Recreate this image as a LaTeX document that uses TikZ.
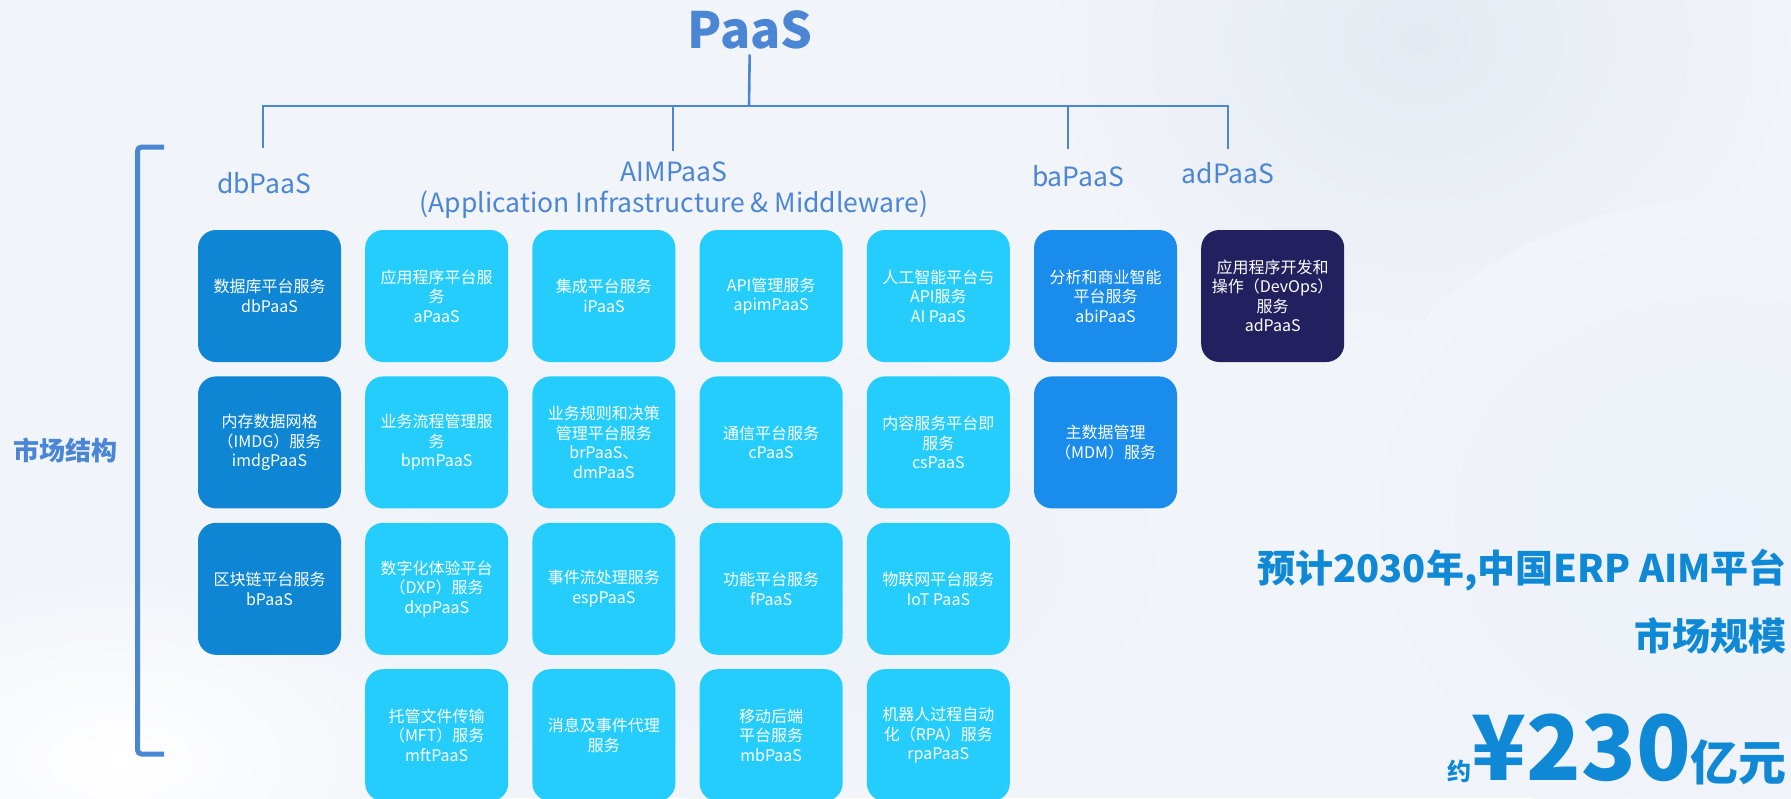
\documentclass[tikz,border=0pt]{standalone}
\usepackage{fontspec}
\setmainfont{Noto Sans CJK SC}
\usetikzlibrary{positioning}

\definecolor{linkblue}{RGB}{74,134,212}
\definecolor{dbblue}{RGB}{14,134,212}
\definecolor{aimcyan}{RGB}{37,205,253}
\definecolor{bablue}{RGB}{26,140,236}
\definecolor{adnavy}{RGB}{35,32,95}
\definecolor{sizeblue}{RGB}{15,136,213}
\definecolor{bgpale}{RGB}{241,244,249}
\definecolor{cloudgrey}{RGB}{229,234,242}
\definecolor{cloudblue}{RGB}{236,242,249}

\begin{document}
\begin{tikzpicture}[x=1pt, y=-1pt,
    node distance=14pt and 23.8pt,
    svc/.style={rounded corners=18pt, minimum width=143pt, minimum height=132pt,
                inner sep=4pt, align=center, text=white,
                font=\fontsize{16}{19.5}\selectfont},
    db/.style={svc, fill=dbblue},
    aim/.style={svc, fill=aimcyan},
    ba/.style={svc, fill=bablue},
    ad/.style={svc, fill=adnavy},
    head/.style={text=linkblue, inner sep=0pt, font=\fontsize{26.5}{30}\selectfont},
    link/.style={draw=linkblue, line width=2.6pt}]

    % background
    \useasboundingbox (0,0) rectangle (1791,798);
    \clip (0,0) rectangle (1791,798);
    \fill[bgpale] (0,0) rectangle (1791,798);
    \shade[inner color=cloudgrey, outer color=bgpale] (1420,40) ellipse (380pt and 320pt);
    \shade[inner color=cloudblue, outer color=bgpale] (1720,520) ellipse (380pt and 320pt);
    \shade[inner color=cloudblue, outer color=bgpale] (740,560) ellipse (460pt and 240pt);
    \shade[inner color=white, outer color=bgpale] (120,760) ellipse (320pt and 180pt);

    % tree
    \node[text=linkblue, inner sep=5pt, font=\bfseries\fontsize{50}{56}\selectfont] (paas) at (750,30) {PaaS};
    \coordinate (hub) at (749,106);
    \coordinate (busL) at (263,106);
    \coordinate (busR) at (1228,106);
    \coordinate (dbend) at (263,148);
    \coordinate (aimend) at (673,151);
    \coordinate (baend) at (1068,149);
    \coordinate (adend) at (1228,149);

    \draw[link] (paas) -- (hub);
    \draw[link] (dbend) -- (busL) -- (busR) -- (adend);
    \draw[link] (aimend) -- (aimend |- busL);
    \draw[link] (baend) -- (baend |- busL);

    \node[head, anchor=base] (dbhd) at (264,193) {dbPaaS};
    \node[head, anchor=base] (aimhd) at (674,181) {AIMPaaS};
    \node[head, anchor=base] (aimsub) at (674,212) {(Application Infrastructure \& Middleware)};
    \node[head, anchor=base] (bahd) at (1078,186) {baPaaS};
    \node[head, anchor=base] (adhd) at (1228,183) {adPaaS};

    % market bracket
    \node[text=linkblue, font=\bfseries\fontsize{26}{30}\selectfont] (mkt) at (65,450) {市场结构};
    \coordinate (brtop) at (164,147);
    \coordinate (brmid) at (137.5,450);
    \coordinate (brbot) at (164,754);
    \draw[linkblue, line width=5pt, rounded corners=4pt] (brtop) -| (brmid) |- (brbot);

    % service boxes
    \node[db] (db1) at (269.5,296) {数据库平台服务\\dbPaaS};
    \node[db, below=of db1] (db2) {内存数据网格\\（IMDG）服务\\imdgPaaS};
    \node[db, below=of db2] (db3) {区块链平台服务\\bPaaS};

    \node[aim, right=of db1] (ap1) {应用程序平台服\\务\\aPaaS};
    \node[aim, below=of ap1] (ap2) {业务流程管理服\\务\\bpmPaaS};
    \node[aim, below=of ap2] (ap3) {数字化体验平台\\（DXP）服务\\dxpPaaS};
    \node[aim, below=of ap3] (ap4) {托管文件传输\\（MFT）服务\\mftPaaS};

    \node[aim, right=of ap1] (ip1) {集成平台服务\\iPaaS};
    \node[aim, below=of ip1] (ip2) {业务规则和决策\\管理平台服务\\brPaaS、\\dmPaaS};
    \node[aim, below=of ip2] (ip3) {事件流处理服务\\espPaaS};
    \node[aim, below=of ip3] (ip4) {消息及事件代理\\服务};

    \node[aim, right=of ip1] (am1) {API管理服务\\apimPaaS};
    \node[aim, below=of am1] (am2) {通信平台服务\\cPaaS};
    \node[aim, below=of am2] (am3) {功能平台服务\\fPaaS};
    \node[aim, below=of am3] (am4) {移动后端\\平台服务\\mbPaaS};

    \node[aim, right=of am1] (ai1) {人工智能平台与\\API服务\\AI PaaS};
    \node[aim, below=of ai1] (ai2) {内容服务平台即\\服务\\csPaaS};
    \node[aim, below=of ai2] (ai3) {物联网平台服务\\IoT PaaS};
    \node[aim, below=of ai3] (ai4) {机器人过程自动\\化（RPA）服务\\rpaPaaS};

    \node[ba, right=of ai1] (ba1) {分析和商业智能\\平台服务\\abiPaaS};
    \node[ba, below=of ba1] (ba2) {主数据管理\\（MDM）服务};

    \node[ad, right=of ba1] (ad1) {应用程序开发和\\操作（DevOps）\\服务\\adPaaS};

    % market size
    \node[anchor=base east, inner sep=0pt, text=sizeblue, font=\bfseries\fontsize{38}{40}\selectfont] (fcst) at (1787,582) {预计2030年,中国ERP AIM平台};
    \node[anchor=base east, inner sep=0pt, text=sizeblue, font=\bfseries\fontsize{38}{40}\selectfont] (scale) at (1787,650) {市场规模};
    \node[anchor=base east, inner sep=0pt, text=sizeblue, font=\bfseries] (amount) at (1787,780)
        {{\fontsize{24}{24}\selectfont 约}{\fontsize{90}{90}\selectfont ¥230}{\fontsize{48}{48}\selectfont 亿元}};
\end{tikzpicture}
\end{document}
